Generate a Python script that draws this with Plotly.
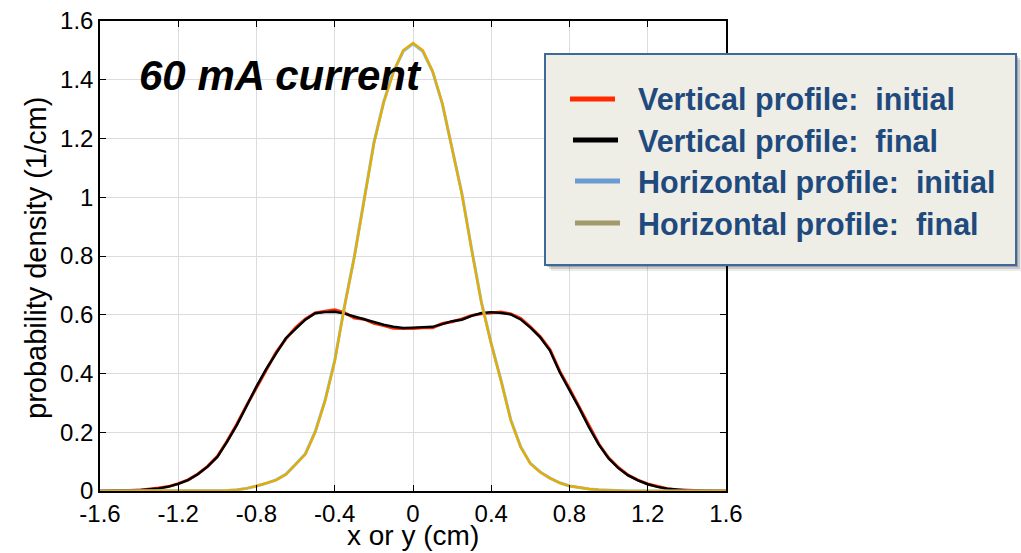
import plotly.graph_objects as go

# ---------------- data ----------------
x_pos = [-1.6, -1.55, -1.5, -1.45, -1.4, -1.35, -1.3, -1.25, -1.2, -1.15, -1.1, -1.05,
         -1.0, -0.95, -0.9, -0.85, -0.8, -0.75, -0.7, -0.65, -0.6, -0.55, -0.5, -0.45,
         -0.4, -0.35, -0.3, -0.25, -0.2, -0.15, -0.1, -0.05, 0.0, 0.05, 0.1, 0.15, 0.2,
         0.25, 0.3, 0.35, 0.4, 0.45, 0.5, 0.55, 0.6, 0.65, 0.7, 0.75, 0.8, 0.85, 0.9,
         0.95, 1.0, 1.05, 1.1, 1.15, 1.2, 1.25, 1.3, 1.35, 1.4, 1.45, 1.5, 1.55, 1.6]

vert_initial = [0.000, 0.000, 0.001, 0.002, 0.003, 0.006, 0.010, 0.015, 0.025, 0.038, 0.058, 0.084,
                0.118, 0.170, 0.228, 0.292, 0.352, 0.414, 0.472, 0.518, 0.556, 0.586, 0.606, 0.612,
                0.617, 0.607, 0.589, 0.585, 0.571, 0.563, 0.554, 0.553, 0.553, 0.556, 0.556, 0.570, 0.576,
                0.586, 0.598, 0.603, 0.607, 0.609, 0.603, 0.588, 0.559, 0.526, 0.482, 0.408, 0.348, 0.285, 0.219,
                0.160, 0.113, 0.080, 0.054, 0.037, 0.024, 0.015, 0.008, 0.004, 0.002, 0.001, 0.000, 0.000, 0.000]

vert_final = [0.000, 0.000, 0.001, 0.002, 0.003, 0.006, 0.009, 0.015, 0.024, 0.037, 0.057, 0.083,
              0.116, 0.168, 0.225, 0.290, 0.356, 0.416, 0.470, 0.520, 0.552, 0.583, 0.605, 0.609,
              0.610, 0.604, 0.594, 0.584, 0.575, 0.566, 0.559, 0.555, 0.556, 0.557, 0.559, 0.568, 0.578,
              0.583, 0.596, 0.606, 0.609, 0.606, 0.601, 0.584, 0.556, 0.523, 0.478, 0.404, 0.345, 0.282, 0.216,
              0.158, 0.111, 0.078, 0.053, 0.036, 0.023, 0.014, 0.008, 0.004, 0.002, 0.001, 0.000, 0.000, 0.000]

horiz_initial = [0.000, 0.000, 0.000, 0.000, 0.000, 0.000, 0.000, 0.000, 0.000, 0.000, 0.000, 0.001,
                 0.001, 0.002, 0.004, 0.009, 0.017, 0.026, 0.038, 0.057, 0.091, 0.127, 0.202, 0.308,
                 0.445, 0.630, 0.798, 0.998, 1.185, 1.325, 1.428, 1.497, 1.522, 1.497, 1.428, 1.318, 1.168,
                 1.013, 0.822, 0.642, 0.502, 0.377, 0.242, 0.151, 0.094, 0.065, 0.044, 0.028, 0.017, 0.011, 0.007,
                 0.004, 0.002, 0.001, 0.000, 0.000, 0.000, 0.000, 0.000, 0.000, 0.000, 0.000, 0.000, 0.000, 0.000]

horiz_final = [0.000, 0.000, 0.000, 0.000, 0.000, 0.000, 0.000, 0.000, 0.000, 0.000, 0.000, 0.000,
               0.001, 0.002, 0.004, 0.009, 0.017, 0.026, 0.037, 0.056, 0.090, 0.125, 0.200, 0.305,
               0.442, 0.628, 0.795, 0.995, 1.182, 1.322, 1.425, 1.500, 1.525, 1.500, 1.430, 1.320, 1.170,
               1.010, 0.820, 0.640, 0.500, 0.375, 0.240, 0.150, 0.093, 0.064, 0.044, 0.028, 0.017, 0.011, 0.007,
               0.004, 0.002, 0.001, 0.000, 0.000, 0.000, 0.000, 0.000, 0.000, 0.000, 0.000, 0.000, 0.000, 0.000]

x_ticks = [-1.6, -1.2, -0.8, -0.4, 0.0, 0.4, 0.8, 1.2, 1.6]
x_ticktext = ["-1.6", "-1.2", "-0.8", "-0.4", "0", "0.4", "0.8", "1.2", "1.6"]
y_ticks = [0, 0.2, 0.4, 0.6, 0.8, 1.0, 1.2, 1.4, 1.6]
y_ticktext = ["0", "0.2", "0.4", "0.6", "0.8", "1", "1.2", "1.4", "1.6"]

legend_labels = ["Vertical profile:\u00a0 initial", "Vertical profile:\u00a0 final",
                 "Horizontal profile:\u00a0 initial", "Horizontal profile:\u00a0 final"]
legend_colors = ["#FF2A00", "#000000", "#6A9BD1", "#A39A6A"]
line_colors = ["#FF2A00", "#000000", "#7FC4E6", "#E6AC05"]
chart_note = "60 mA current"

# ---------------- layout geometry (pixels) ----------------
W, H = 1021, 553
L, R, T, B = 100, 726, 21, 491


def px(xp):
    return (xp - L) / (R - L)


def py(yp):
    return (B - yp) / (B - T)


fig = go.Figure()
series = [vert_initial, vert_final, horiz_initial, horiz_final]
widths = [3, 2.4, 3, 2.4]
for ys, name, col, w in zip(series, legend_labels, line_colors, widths):
    fig.add_trace(go.Scatter(x=x_pos, y=ys, mode="lines", name=name,
                             line=dict(color=col, width=w), showlegend=False))

shapes = []
# white masks over gridlines (between grid and traces)
for (x0, y0, x1, y1) in [(136, 57, 432, 93), (395, 21, 726, 137), (468, 21, 726, 150)]:
    shapes.append(dict(type="rect", xref="paper", yref="paper", layer="between",
                       x0=px(x0), x1=px(x1), y0=py(y1), y1=py(y0),
                       fillcolor="white", line=dict(width=0)))

# legend box with shadow
bx0, by0, bx1, by1 = 545, 54, 1016, 265
for off, op in [(6, 0.08), (4, 0.14), (2, 0.2)]:
    shapes.append(dict(type="rect", xref="paper", yref="paper", layer="above",
                       x0=px(bx0 + off), x1=px(bx1 + off), y0=py(by1 + off), y1=py(by0 + off),
                       fillcolor=f"rgba(0,0,0,{op})", line=dict(width=0)))
shapes.append(dict(type="rect", xref="paper", yref="paper", layer="above",
                   x0=px(bx0), x1=px(bx1), y0=py(by1), y1=py(by0),
                   fillcolor="#EFEEE6", line=dict(color="#3D6A98", width=2)))

rows = [99, 140, 181, 223]
sample_x = [(570, 615), (573, 618), (575, 620), (575, 620)]
annotations = []
for lab, col, yr, (sx0, sx1) in zip(legend_labels, legend_colors, rows, sample_x):
    shapes.append(dict(type="line", xref="paper", yref="paper", layer="above",
                       x0=px(sx0), x1=px(sx1), y0=py(yr), y1=py(yr),
                       line=dict(color=col, width=5)))
    annotations.append(dict(text=lab, xref="paper", yref="paper", x=px(636), y=py(yr + 1),
                            xanchor="left", yanchor="middle", showarrow=False,
                            font=dict(family="Liberation Sans", size=30.5, color="#1F4A7E", weight="bold")))

annotations.append(dict(text=chart_note, xref="paper", yref="paper", x=px(137), y=py(75),
                        xanchor="left", yanchor="middle", showarrow=False,
                        font=dict(family="Liberation Sans", size=42, color="black",
                                  weight="bold", style="italic")))
annotations.append(dict(text="x or y (cm)", xref="paper", yref="paper", x=px(413), y=py(535),
                        xanchor="center", yanchor="middle", showarrow=False,
                        font=dict(family="Liberation Sans", size=28, color="black")))
annotations.append(dict(text="probability density (1/cm)", xref="paper", yref="paper",
                        x=px(36), y=py(258), textangle=-90,
                        xanchor="center", yanchor="middle", showarrow=False,
                        font=dict(family="Liberation Sans", size=29, color="black")))

axis_common = dict(showline=True, linecolor="black", linewidth=1.5, mirror="ticks",
                   ticks="inside", ticklen=6, tickwidth=1.2, tickcolor="black",
                   showgrid=True, gridcolor="#DCDCDC", gridwidth=1, zeroline=False,
                   tickfont=dict(family="Liberation Sans", size=24, color="black"))

fig.update_layout(
    width=W, height=H,
    margin=dict(l=L, r=W - R, t=T, b=H - B, autoexpand=False),
    paper_bgcolor="white", plot_bgcolor="white",
    xaxis=dict(range=[-1.6, 1.6], tickvals=x_ticks, ticktext=x_ticktext, **axis_common),
    yaxis=dict(range=[0, 1.6], tickvals=y_ticks, ticktext=y_ticktext, **axis_common),
    shapes=shapes, annotations=annotations, showlegend=False,
)

fig.write_html("out.html", config={"displayModeBar": False},
               post_script="document.body.style.margin='0';document.body.style.overflow='hidden';")
